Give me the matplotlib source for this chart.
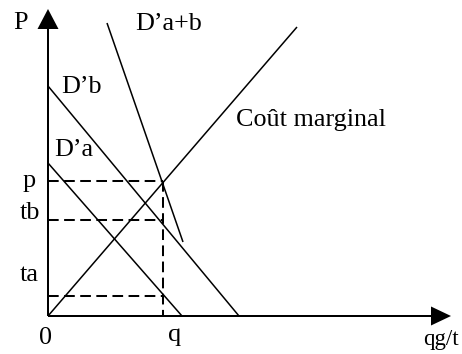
import matplotlib
matplotlib.use("Agg")
import matplotlib.pyplot as plt

# Diagram values (units = pixels from the origin of the reference)
mc_x = [0, 249]
mc_y = [0, 289]
db_x = [0, 191]
db_y = [230, 0]
da_x = [0, 134]
da_y = [153, 0]
dab_x = [59, 135]
dab_y = [293, 74]

q = 115
price_levels = [135, 96, 20]   # p, tb, ta
price_labels = ["p", "tb", "ta"]

plt.rcParams['font.family'] = ['Liberation Serif', 'DejaVu Serif']
FS = 18.8
LW = 1.1

fig = plt.figure(figsize=(4.62, 3.54), dpi=100)
ax = fig.add_axes([0, 0, 1, 1])
ax.set_xlim(-48, 414)
ax.set_ylim(-38, 316)
ax.axis('off')

# axes with arrow heads
ax.arrow(0, 0, 0, 307, width=2, head_width=21, head_length=20,
         length_includes_head=True, color='black', lw=0)
ax.arrow(0, 0, 403, 0, width=2, head_width=19, head_length=20,
         length_includes_head=True, color='black', lw=0)

# curves
ax.plot(mc_x, mc_y, color='black', lw=LW, solid_capstyle='butt')
ax.plot(db_x, db_y, color='black', lw=LW, solid_capstyle='butt')
ax.plot(da_x, da_y, color='black', lw=LW, solid_capstyle='butt')
ax.plot(dab_x, dab_y, color='black', lw=LW, solid_capstyle='butt')

# dashed guides
dash = (0, (5.3, 2.7))
for lvl in price_levels:
    ax.plot([0, q], [lvl, lvl], color='black', lw=1.45, linestyle=dash)
ax.plot([q, q], [price_levels[0], 0], color='black', lw=1.45, linestyle=dash)

# price labels on the y axis
label_base = {"p": 129, "tb": 97, "ta": 35}
label_left = {"p": 23, "tb": 20, "ta": 20}
for lab in price_labels:
    ax.text(label_left[lab] - 48, label_base[lab], lab, fontsize=FS,
            ha='left', va='baseline')

ax.text(-35, 287, "P", fontsize=FS, ha='left', va='baseline')
ax.text(87, 286, "D\u2019a+b", fontsize=FS, ha='left', va='baseline')
ax.text(13, 223, "D\u2019b", fontsize=FS, ha='left', va='baseline')
ax.text(6, 160, "D\u2019a", fontsize=FS, ha='left', va='baseline')
ax.text(188, 190, "Co\u00fbt marginal", fontsize=FS, ha='left', va='baseline')
ax.text(-2, -28, "0", fontsize=FS, ha='center', va='baseline')
ax.text(q + 12, -25, "q", fontsize=FS, ha='center', va='baseline')
ax.text(411, -29, "qg/t", fontsize=16.5, ha='right', va='baseline')

fig.savefig("out.png", dpi=100)
